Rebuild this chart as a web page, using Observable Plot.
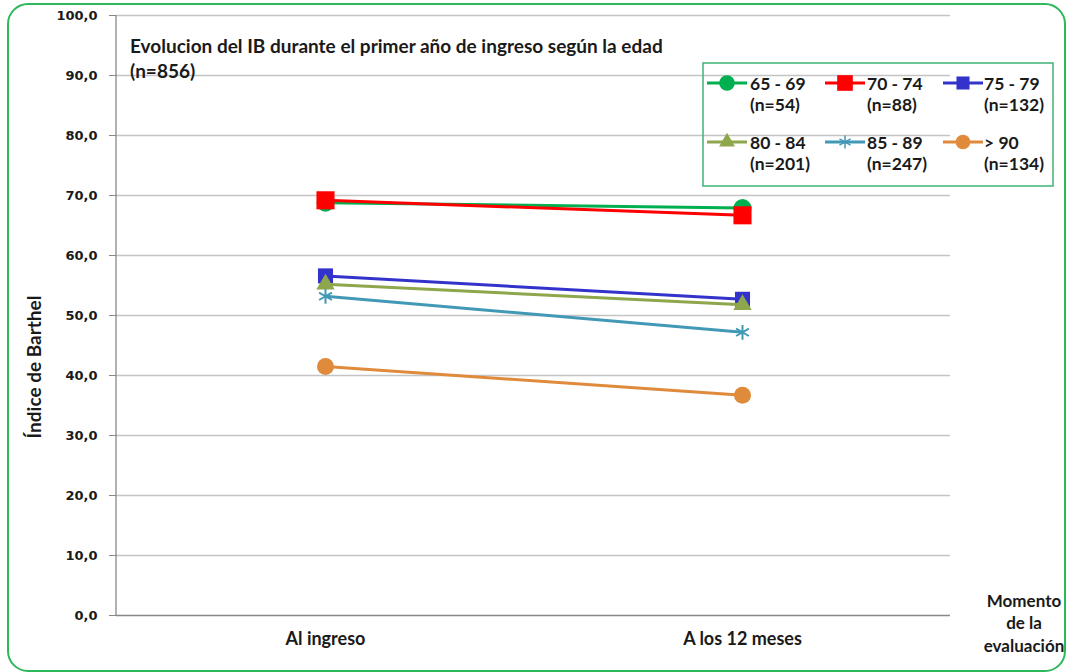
<!DOCTYPE html>
<html><head><meta charset="utf-8">
<script src="https://cdn.jsdelivr.net/npm/d3@7"></script>
<script src="https://cdn.jsdelivr.net/npm/@observablehq/plot@0.6"></script>
<style>body{margin:0;background:#fff;overflow:hidden;} svg{display:block;}</style>
</head><body><div id="chart"></div>
<script>
const moments = ["Al ingreso", "A los 12 meses"];
const groups = ["65 - 69", "70 - 74", "75 - 79", "80 - 84", "85 - 89", "> 90"];
const groupN = ["(n=54)", "(n=88)", "(n=132)", "(n=201)", "(n=247)", "(n=134)"];
const valuesIngreso = [68.8, 69.2, 56.6, 55.2, 53.2, 41.5];
const values12m = [67.9, 66.7, 52.7, 51.8, 47.2, 36.7];
const yTicks = [0, 10, 20, 30, 40, 50, 60, 70, 80, 90, 100];
const colors = ["#00b050", "#ff0000", "#3333cc", "#8ea64c", "#4299b6", "#e08a3c"];
const symbols = ["circle", "square", "square", "triangle", "asterisk", "circle"];
const sizes = [9, 10.2, 8.5, 6.8, 7, 8.5];
const titleLines = ["Evolucion del IB durante el primer año de ingreso según la edad", "(n=856)"];
const yLabel = "Índice de Barthel";
const xLabelLines = ["Momento", "de la", "evaluación"];

const rows = [];
groups.forEach((g, i) => {
  rows.push({group: g, moment: moments[0], value: valuesIngreso[i]});
  rows.push({group: g, moment: moments[1], value: values12m[i]});
});

const W = 1067, H = 672;
const marks = [
  Plot.ruleY(yTicks.filter(d => d > 0), {stroke: "#c4c4c4", strokeWidth: 1.3}),
  Plot.ruleY([0], {stroke: "#888888", strokeWidth: 1.3}),
  Plot.axisY({ticks: yTicks, tickFormat: d => d.toFixed(1).replace(".", ","), tickSize: 7, tickPadding: 12,
    stroke: "#888888", fill: "#1a1a1a", fontFamily: "DejaVu Sans", fontWeight: "bold", fontSize: 13, label: null}),
  Plot.axisX({tickSize: 0, tickPadding: 17, fill: "#1a1a1a", fontFamily: "Lato", fontWeight: "bold", fontSize: 18, label: null})
];
groups.forEach((g, i) => {
  const d = rows.filter(r => r.group === g);
  marks.push(Plot.line(d, {x: "moment", y: "value", stroke: colors[i], strokeWidth: 3}));
  if (symbols[i] === "asterisk") {
    marks.push(Plot.dot(d, {x: "moment", y: "value", symbol: "asterisk", r: sizes[i], stroke: colors[i], strokeWidth: 2, fill: "none"}));
  } else {
    marks.push(Plot.dot(d, {x: "moment", y: "value", symbol: symbols[i], r: sizes[i], fill: colors[i], stroke: "none"}));
  }
});

const chart = Plot.plot({
  width: W, height: H,
  marginLeft: 116, marginRight: 117, marginTop: 15, marginBottom: 57,
  x: {type: "point", domain: moments, padding: 0.5},
  y: {domain: [0, 100]},
  style: {background: "white", fontFamily: "Lato"},
  marks
});
document.getElementById("chart").appendChild(chart);

const svg = d3.select(chart);
const ys = chart.scale("y");
// y axis line
svg.append("line").attr("x1", 116).attr("x2", 116).attr("y1", ys.apply(100)).attr("y2", ys.apply(0))
  .attr("stroke", "#888888").attr("stroke-width", 1.3);

// outer rounded frame
svg.append("rect").attr("x", 8).attr("y", 4).attr("width", 1057).attr("height", 667).attr("rx", 20)
  .attr("fill", "none").attr("stroke", "#2eb85c").attr("stroke-width", 2);

// title
titleLines.forEach((t, k) => {
  svg.append("text").attr("x", 130).attr("y", 45 + k * 25).attr("text-anchor", "start").attr("dominant-baseline", "central")
    .attr("font-family", "Lato").attr("font-weight", "bold").attr("font-size", 19).attr("fill", "#1a1a1a").text(t);
});

// y label
svg.append("text").attr("transform", "translate(33,367) rotate(-90)").attr("text-anchor", "middle")
  .attr("dominant-baseline", "central").attr("font-family", "Lato").attr("font-weight", "bold")
  .attr("font-size", 19).attr("fill", "#1a1a1a").text(yLabel);

// x label
xLabelLines.forEach((t, k) => {
  svg.append("text").attr("x", 1024).attr("y", 600 + k * 22.5).attr("text-anchor", "middle")
    .attr("dominant-baseline", "central").attr("font-family", "Lato").attr("font-weight", "bold")
    .attr("font-size", 17).attr("fill", "#1a1a1a").text(t);
});

// legend
svg.append("rect").attr("x", 703).attr("y", 63).attr("width", 350).attr("height", 123)
  .attr("fill", "none").attr("stroke", "#3cb371").attr("stroke-width", 1.5);
const colX = [707, 825, 943], rowY = [83, 142], labX = [750, 867, 984];
const symMap = {circle: d3.symbolCircle, square: d3.symbolSquare, triangle: d3.symbolTriangle, asterisk: d3.symbolAsterisk};
groups.forEach((g, i) => {
  const c = i % 3, r = Math.floor(i / 3);
  const y = rowY[r], x0 = colX[c];
  svg.append("line").attr("x1", x0).attr("x2", x0 + 40).attr("y1", y).attr("y2", y)
    .attr("stroke", colors[i]).attr("stroke-width", 3);
  const p = d3.symbol(symMap[symbols[i]], Math.PI * sizes[i] * sizes[i] * 0.75)();
  const s = svg.append("path").attr("d", p).attr("transform", `translate(${x0 + 20},${y})`);
  if (symbols[i] === "asterisk") s.attr("fill", "none").attr("stroke", colors[i]).attr("stroke-width", 1.5);
  else s.attr("fill", colors[i]);
  [g, groupN[i]].forEach((t, k) => {
    svg.append("text").attr("x", labX[c]).attr("y", y + k * 21).attr("text-anchor", "start").attr("dominant-baseline", "central")
      .attr("font-family", "Lato").attr("font-weight", "bold").attr("font-size", 17.5).attr("fill", "#1a1a1a").text(t);
  });
});
</script></body></html>
